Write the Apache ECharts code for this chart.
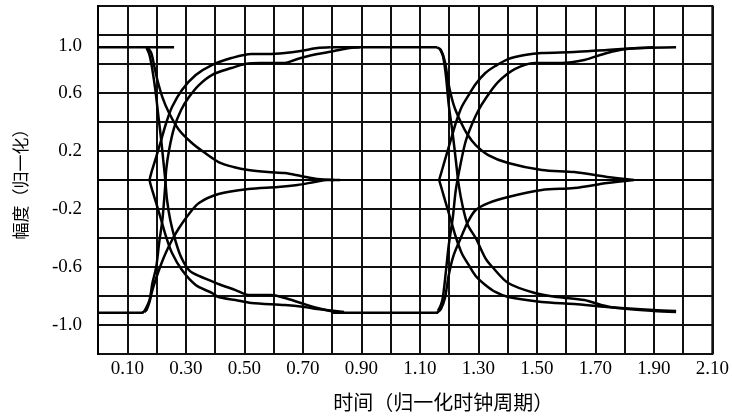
<!DOCTYPE html>
<html>
<head>
<meta charset="utf-8">
<script src="https://cdn.jsdelivr.net/npm/echarts@6/dist/echarts.min.js"></script>
<style>html,body{margin:0;padding:0;background:#fff}#c{width:732px;height:418px}</style>
</head>
<body>
<div id="c"></div>
<script>
// Tick labels
const xTickLabels = ['0.10','0.30','0.50','0.70','0.90','1.10','1.30','1.50','1.70','1.90','2.10'];
const yTickLabels = ['-1.0','-0.6','-0.2','0.2','0.6','1.0'];

// Flat level segments
const topStart = [[0,0.915],[0.26,0.915]];
const bottomStart = [[0,-0.915],[0.155,-0.915]];
const topMid = [[0.794,0.915],[1.159,0.915]];
const bottomMid = [[0.80,-0.915],[1.162,-0.915]];

// Period 1 traces
const p1Up0 = [[0.176,0],[0.182,0.048],[0.199,0.159],[0.216,0.276],[0.233,0.393],[0.253,0.503],[0.287,0.621],[0.334,0.724],[0.389,0.793],[0.456,0.841],[0.524,0.869],[0.581,0.869],[0.639,0.876],[0.693,0.890],[0.750,0.910],[0.794,0.915]];
const p1Up1 = [[0.152,-0.915],[0.159,-0.903],[0.176,-0.828],[0.186,-0.710],[0.199,-0.600],[0.209,-0.434],[0.220,-0.276],[0.226,-0.138],[0.230,-0.034],[0.233,0.069],[0.243,0.207],[0.260,0.359],[0.284,0.483],[0.311,0.572],[0.345,0.655],[0.389,0.724],[0.456,0.772],[0.503,0.800],[0.557,0.807],[0.639,0.807],[0.672,0.828],[0.706,0.848],[0.750,0.869],[0.807,0.890],[0.861,0.910],[0.895,0.915]];
const p1MidFromTop = [[0.169,0.915],[0.182,0.876],[0.193,0.779],[0.203,0.690],[0.220,0.572],[0.243,0.462],[0.277,0.345],[0.321,0.255],[0.361,0.193],[0.412,0.124],[0.463,0.090],[0.514,0.069],[0.581,0.055],[0.639,0.048],[0.693,0.028],[0.750,0.007],[0.807,0]];
const p1MidFromBottom = [[0.159,-0.910],[0.166,-0.897],[0.176,-0.841],[0.186,-0.759],[0.199,-0.676],[0.216,-0.579],[0.233,-0.497],[0.253,-0.414],[0.277,-0.331],[0.311,-0.234],[0.345,-0.159],[0.412,-0.097],[0.514,-0.062],[0.615,-0.048],[0.682,-0.034],[0.740,-0.014],[0.784,0],[0.828,0]];
const p1Down1 = [[0.166,0.910],[0.176,0.862],[0.186,0.759],[0.196,0.621],[0.206,0.448],[0.216,0.276],[0.223,0.138],[0.230,0],[0.236,-0.138],[0.247,-0.276],[0.264,-0.414],[0.284,-0.531],[0.311,-0.621],[0.345,-0.662],[0.412,-0.717],[0.470,-0.759],[0.514,-0.793],[0.591,-0.793],[0.639,-0.814],[0.693,-0.848],[0.750,-0.883],[0.794,-0.903],[0.834,-0.915]];
const p1Down0 = [[0.176,0],[0.182,-0.048],[0.199,-0.159],[0.216,-0.276],[0.233,-0.393],[0.253,-0.503],[0.287,-0.621],[0.334,-0.724],[0.389,-0.779],[0.412,-0.807],[0.470,-0.828],[0.524,-0.848],[0.639,-0.862],[0.706,-0.876],[0.750,-0.890],[0.841,-0.910]];

// Period 2 traces
const p2Up0 = [[1.166,0],[1.176,0.069],[1.189,0.159],[1.206,0.276],[1.223,0.393],[1.243,0.503],[1.267,0.586],[1.291,0.662],[1.324,0.738],[1.358,0.786],[1.402,0.834],[1.459,0.862],[1.517,0.876],[1.628,0.883],[1.740,0.897],[1.865,0.910],[1.976,0.915]];
const p2Up1 = [[1.162,-0.903],[1.172,-0.862],[1.179,-0.807],[1.189,-0.634],[1.199,-0.448],[1.213,-0.255],[1.223,-0.069],[1.240,0.117],[1.257,0.269],[1.280,0.393],[1.301,0.483],[1.324,0.559],[1.368,0.676],[1.426,0.766],[1.493,0.807],[1.584,0.807],[1.662,0.828],[1.740,0.876],[1.807,0.903],[1.899,0.915]];
const p2MidFromTop = [[1.159,0.915],[1.172,0.897],[1.186,0.814],[1.199,0.655],[1.216,0.517],[1.240,0.400],[1.264,0.310],[1.291,0.241],[1.334,0.172],[1.402,0.117],[1.517,0.069],[1.628,0.055],[1.740,0.021],[1.831,0]];
const p2MidFromBottom = [[1.159,-0.915],[1.172,-0.890],[1.186,-0.814],[1.199,-0.655],[1.216,-0.517],[1.240,-0.400],[1.264,-0.290],[1.291,-0.207],[1.334,-0.159],[1.402,-0.117],[1.517,-0.069],[1.628,-0.055],[1.740,-0.021],[1.831,0]];
const p2Down1 = [[1.169,0.903],[1.179,0.855],[1.189,0.724],[1.199,0.517],[1.213,0.310],[1.223,0.138],[1.233,-0.034],[1.247,-0.186],[1.264,-0.310],[1.291,-0.400],[1.324,-0.538],[1.348,-0.600],[1.402,-0.710],[1.493,-0.779],[1.571,-0.807],[1.662,-0.828],[1.720,-0.862],[1.774,-0.883],[1.899,-0.903],[1.976,-0.910]];
const p2Down0 = [[1.166,0],[1.176,-0.069],[1.189,-0.159],[1.206,-0.276],[1.223,-0.393],[1.243,-0.503],[1.267,-0.586],[1.291,-0.662],[1.324,-0.724],[1.358,-0.772],[1.402,-0.807],[1.517,-0.841],[1.628,-0.855],[1.740,-0.876],[1.899,-0.897],[1.976,-0.903]];

const traces = [topStart, bottomStart, topMid, bottomMid,
  p1Up0, p1Up1, p1MidFromTop, p1MidFromBottom, p1Down1, p1Down0,
  p2Up0, p2Up1, p2MidFromTop, p2MidFromBottom, p2Down1, p2Down0];

const chart = echarts.init(document.getElementById('c'), null, {renderer: 'canvas'});
const gridLine = {show: true, lineStyle: {color: '#111', width: 2}};
chart.setOption({
  animation: false,
  backgroundColor: '#fff',
  grid: {left: 98, right: 12, top: 6, bottom: 64, show: true, borderColor: '#000', borderWidth: 2, backgroundColor: 'transparent'},
  xAxis: {
    type: 'value', min: 0, max: 2.1, interval: 0.1,
    name: '时间（归一化时钟周期）', nameLocation: 'middle', nameGap: 38,
    nameTextStyle: {fontFamily: 'Noto Sans CJK SC', fontSize: 20, color: '#000', padding: [0, 0, 0, 76]},
    axisLine: {show: true, lineStyle: {color: '#000', width: 2}},
    axisTick: {show: false},
    splitLine: gridLine,
    axisLabel: {
      margin: 6, color: '#000', fontFamily: 'Liberation Serif', fontSize: 19,
      formatter: v => { const s = v.toFixed(2); return xTickLabels.includes(s) ? s : ''; }
    }
  },
  yAxis: {
    type: 'value', min: -1.2, max: 1.2, interval: 0.2,
    name: '幅度（归一化）', nameLocation: 'middle', nameGap: 69, nameRotate: 90,
    nameTextStyle: {fontFamily: 'Noto Sans CJK SC', fontSize: 17, color: '#000'},
    axisLine: {show: true, lineStyle: {color: '#000', width: 2}},
    axisTick: {show: false},
    splitLine: gridLine,
    axisLabel: {
      margin: 16, color: '#000', fontFamily: 'Liberation Serif', fontSize: 19,
      rich: {hi: {padding: [22, 0, 0, 0], fontFamily: 'Liberation Serif', fontSize: 19, color: '#000'}},
      formatter: v => { const s = v.toFixed(1); if (!yTickLabels.includes(s)) return ''; return s === '1.0' ? '{hi|1.0}' : s; }
    }
  },
  series: traces.map(d => ({
    type: 'line', data: d, showSymbol: false, smooth: 0.3,
    lineStyle: {color: '#000', width: 2.5}, silent: true, z: 3
  }))
});
</script>
</body>
</html>
